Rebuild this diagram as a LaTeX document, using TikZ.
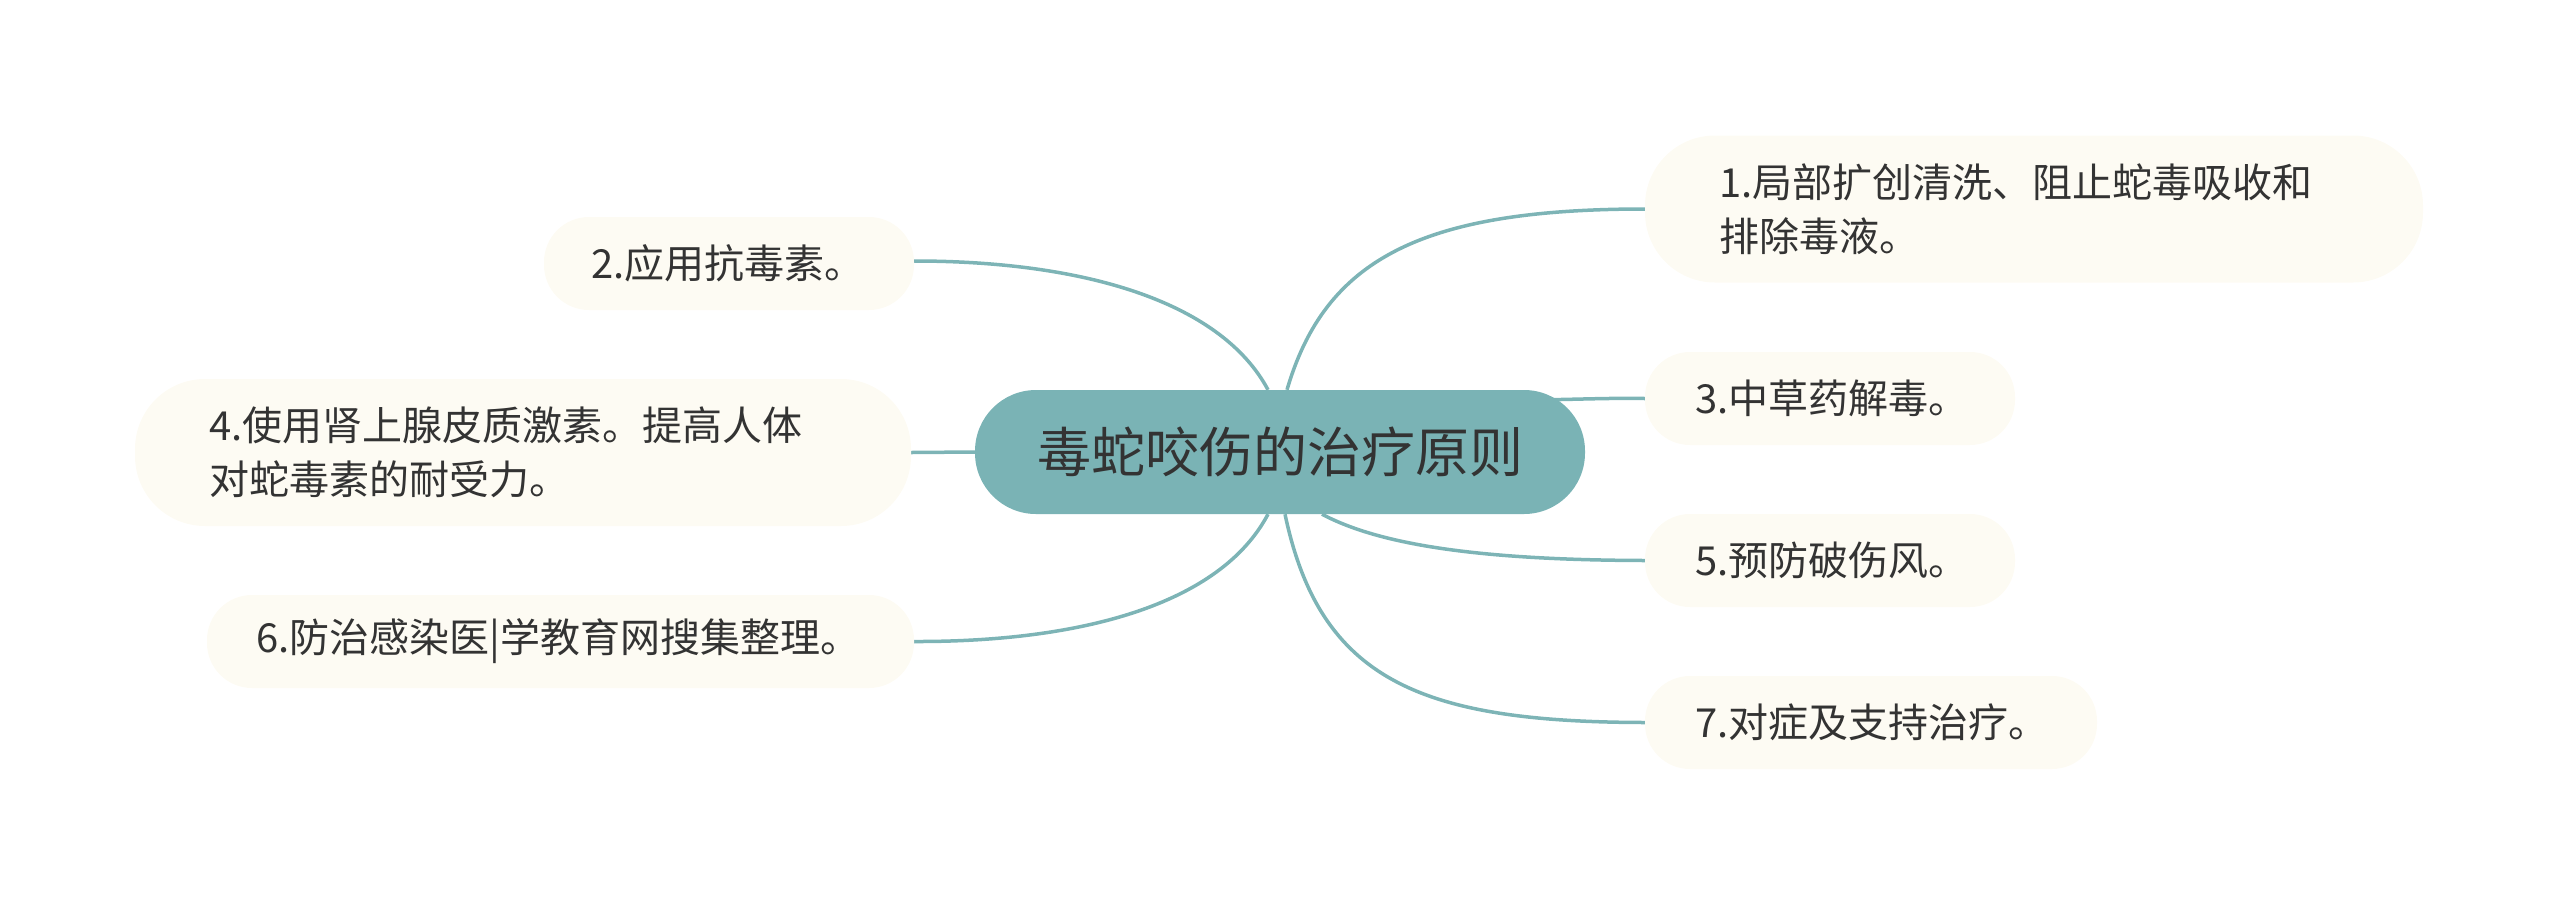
\documentclass[tikz,border=0pt]{standalone}
\usepackage{fontspec}
\setmainfont{Noto Sans CJK SC}
\usetikzlibrary{backgrounds}
\definecolor{hubfill}{HTML}{7AB3B5}
\definecolor{linkcol}{HTML}{7DB4B6}
\definecolor{leaffill}{HTML}{FDFBF3}
\definecolor{inktext}{HTML}{333333}
\begin{document}
\begin{tikzpicture}[x=1pt,y=-1pt,
  hub/.style={fill=hubfill, text=inktext, rounded corners=61pt, minimum width=610pt,
    minimum height=124pt, inner sep=0pt, font=\fontsize{54}{60}\selectfont},
  leafone/.style={fill=leaffill, text=inktext, rounded corners=45pt, minimum height=93pt,
    inner sep=0pt, font=\fontsize{40}{54}\selectfont, align=left},
  leaftwo/.style={fill=leaffill, text=inktext, rounded corners=70pt, minimum height=147pt,
    inner sep=0pt, font=\fontsize{40}{54}\selectfont, align=left},
  link/.style={draw=linkcol, line width=3.5pt}]
\useasboundingbox (0,0) rectangle (2560,906);

\node[hub] (c) at (1280,452) {毒蛇咬伤的治疗原则};

\node[leaftwo, minimum width=778pt, text width=630pt] (n1) at (2034,209)
  {1.局部扩创清洗、阻止蛇毒吸收和\\排除毒液。};
\node[leafone, minimum width=370pt, text width=276pt] (n2) at (729,263.5) {2.应用抗毒素。};
\node[leafone, minimum width=370pt, text width=270pt] (n3) at (1830,398.5) {3.中草药解毒。};
\node[leaftwo, minimum width=776pt, text width=628pt] (n4) at (523,452.5)
  {4.使用肾上腺皮质激素。提高人体\\对蛇毒素的耐受力。};
\node[leafone, minimum width=370pt, text width=270pt] (n5) at (1830,560.5) {5.预防破伤风。};
\node[leafone, minimum width=707pt, text width=609pt] (n6) at (560.5,641.5) {6.防治感染医|学教育网搜集整理。};
\node[leafone, minimum width=452pt, text width=352pt] (n7) at (1871,722.5) {7.对症及支持治疗。};

\begin{scope}[on background layer]
  \draw[link] ([xshift=7pt]c.north) .. controls (1325,260) and (1420,209) .. (n1.west);
  \draw[link] ([xshift=-12pt]c.north) .. controls (1220,300) and (1080,261) .. (n2.east |- 0,261);
  \draw[link] ([xshift=-40pt,yshift=-10pt]c.north east) .. controls (1590,399) and (1610,398) .. (n3.west);
  \draw[link] (c.west) -- (n4.east);
  \draw[link] ([xshift=42pt]c.south) .. controls (1380,545) and (1480,560) .. (n5.west);
  \draw[link] ([xshift=-12pt]c.south) .. controls (1220,605) and (1080,642) .. (n6.east);
  \draw[link] ([xshift=5pt]c.south) .. controls (1320,680) and (1420,722) .. (n7.west);
\end{scope}
\end{tikzpicture}
\end{document}
